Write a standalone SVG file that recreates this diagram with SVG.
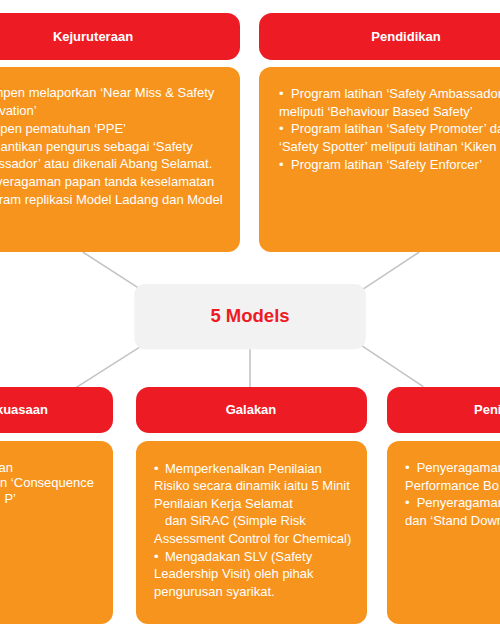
<svg xmlns="http://www.w3.org/2000/svg" width="500" height="631" viewBox="0 0 500 631">
<style>
.hd{fill:#ed1c24}
.bd{fill:#f7941d}
.ht{font-family:"Liberation Sans",Arial,sans-serif;font-size:13px;font-weight:bold;fill:#ffffff;text-anchor:middle}
.bt{font-family:"Liberation Sans",Arial,sans-serif;font-size:13px;fill:#ffffff}
.e{text-anchor:end}
.cn{stroke:#c4c4c4;stroke-width:1.6;fill:none}
</style>
<rect width="500" height="631" fill="#ffffff"/>
<g id="connectors">
<line class="cn" x1="82.7" y1="252" x2="138" y2="287.7"/>
<line class="cn" x1="419.3" y1="252" x2="362.7" y2="289.3"/>
<line class="cn" x1="139.3" y1="347.3" x2="76" y2="387.7"/>
<line class="cn" x1="361.7" y1="345.7" x2="423.3" y2="386.7"/>
<line class="cn" x1="250" y1="349" x2="250" y2="387"/>
</g>
<g id="center">
<rect x="134.3" y="284" width="231.5" height="65.3" rx="11" fill="#f2f2f2"/>
<text x="250" y="322.3" font-family="Liberation Sans,Arial,sans-serif" font-size="18.5" font-weight="bold" fill="#ed1c24" text-anchor="middle">5 Models</text>
</g>
<g id="kejuruteraan">
<rect class="hd" x="-54" y="13" width="294" height="47" rx="13"/>
<text class="ht" x="93" y="40.5">Kejuruteraan</text>
<rect class="bd" x="-54" y="67" width="294" height="185" rx="12"/>
<text class="bt e" x="214.3" y="97">mpen melaporkan ‘Near Miss &amp; Safety</text>
<text class="bt e" x="36.7" y="114.9">vation’</text>
<text class="bt e" x="126" y="132.7">mpen pematuhan ‘PPE’</text>
<text class="bt e" x="192.7" y="150.6">antikan pengurus sebagai ‘Safety</text>
<text class="bt e" x="212.3" y="168.4">ssador’ atau dikenali Abang Selamat.</text>
<text class="bt e" x="214.3" y="186.3">yeragaman papan tanda keselamatan</text>
<text class="bt e" x="222.7" y="204.1">gram replikasi Model Ladang dan Model</text>
</g>
<g id="pendidikan">
<rect class="hd" x="259" y="13" width="294" height="47" rx="13"/>
<text class="ht" x="406" y="40.5">Pendidikan</text>
<rect class="bd" x="259" y="67" width="294" height="185" rx="12"/>
<text class="bt" y="97.5"><tspan x="279">•</tspan><tspan x="291">Program latihan ‘Safety Ambassador</tspan></text>
<text class="bt" x="279" y="115.5">meliputi ‘Behaviour Based Safety’</text>
<text class="bt" y="133.3"><tspan x="279">•</tspan><tspan x="291">Program latihan ‘Safety Promoter’ da</tspan></text>
<text class="bt" x="279" y="151">‘Safety Spotter’ meliputi latihan ‘Kiken Y</text>
<text class="bt" y="168.7"><tspan x="279">•</tspan><tspan x="291">Program latihan ‘Safety Enforcer’</tspan></text>
</g>
<g id="penguatkuasaan">
<rect class="hd" x="-118" y="387" width="231" height="46" rx="13"/>
<text class="ht e" x="48" y="414">kuasaan</text>
<rect class="bd" x="-118" y="441" width="231" height="183" rx="12"/>
<text class="bt e" x="13" y="471.7">an</text>
<text class="bt e" x="94" y="487.3">n ‘Consequence</text>
<text class="bt e" x="16" y="502.7">P’</text>
</g>
<g id="galakan">
<rect class="hd" x="136" y="387" width="231" height="46" rx="13"/>
<text class="ht" x="251" y="414">Galakan</text>
<rect class="bd" x="136" y="441" width="231" height="183" rx="12"/>
<text class="bt" y="472.5"><tspan x="154">•</tspan><tspan x="165">Memperkenalkan Penilaian</tspan></text>
<text class="bt" x="154" y="490.1">Risiko secara dinamik iaitu 5 Minit</text>
<text class="bt" x="154" y="507.7">Penilaian Kerja Selamat</text>
<text class="bt" x="165" y="525.3">dan SiRAC (Simple Risk</text>
<text class="bt" x="154" y="542.9">Assessment Control for Chemical)</text>
<text class="bt" y="560.5"><tspan x="154">•</tspan><tspan x="165">Mengadakan SLV (Safety</tspan></text>
<text class="bt" x="154" y="578.1">Leadership Visit) oleh pihak</text>
<text class="bt" x="154" y="595.7">pengurusan syarikat.</text>
</g>
<g id="penilaian">
<rect class="hd" x="387" y="387" width="231" height="46" rx="13"/>
<text class="ht" x="474" y="414" text-anchor="start" style="text-anchor:start">Peni</text>
<rect class="bd" x="387" y="441" width="231" height="183" rx="12"/>
<text class="bt" y="471.5"><tspan x="405">•</tspan><tspan x="416.7">Penyeragaman</tspan></text>
<text class="bt" x="405" y="489.5">Performance Bo</text>
<text class="bt" y="506.5"><tspan x="405">•</tspan><tspan x="416.7">Penyeragaman</tspan></text>
<text class="bt" x="405" y="524.5">dan ‘Stand Down</text>
</g>
</svg>
